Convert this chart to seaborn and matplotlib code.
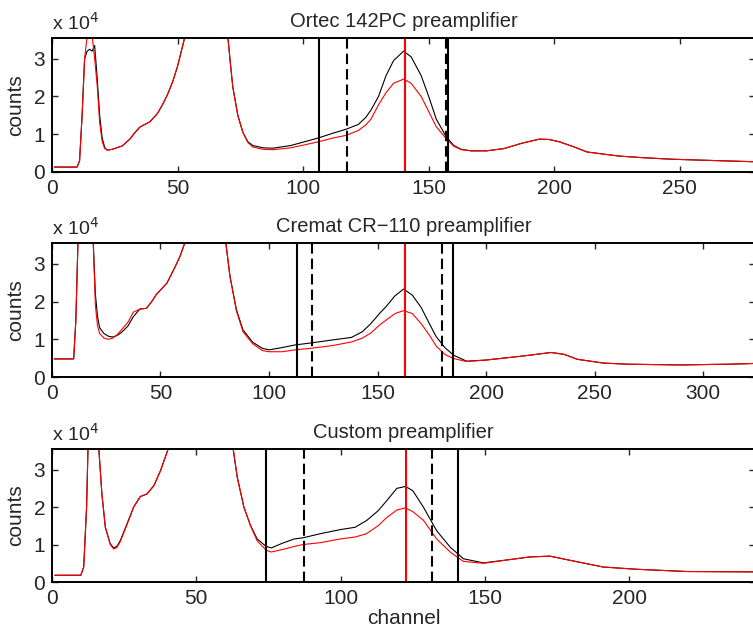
import matplotlib
matplotlib.use("Agg")
import matplotlib.pyplot as plt
import seaborn as sns

# counts are in units of 1e4 (values above the y range are clipped peaks)
ortec_ch = [1, 10, 11, 12, 13, 14, 15, 16, 17, 18, 19, 20, 21, 22, 24, 28, 31, 33, 35, 39, 42, 44, 46, 48, 50, 51.5,
            53, 61, 70, 71, 72, 74, 76, 78, 80, 84, 88, 95, 100, 106, 112, 117, 122, 125, 127, 130, 133, 136, 140,
            143, 147, 150, 153, 157, 160, 163, 167, 173, 180, 187, 194, 198, 202, 208, 213, 220, 226, 235, 246, 260, 280]
ortec_black = [0.13, 0.13, 0.3, 1.5, 3.0, 3.2, 3.25, 3.2, 3.35, 2.5, 1.5, 0.9, 0.65, 0.58, 0.6, 0.69, 0.87, 1.04, 1.19,
               1.33, 1.55, 1.78, 2.05, 2.38, 2.8, 3.2, 3.6, 9.0, 3.6, 2.9, 2.25, 1.5, 1.05, 0.8, 0.7, 0.64, 0.63, 0.7,
               0.79, 0.9, 1.03, 1.13, 1.26, 1.45, 1.64, 2.0, 2.55, 2.95, 3.2, 3.05, 2.55, 2.0, 1.4, 0.93, 0.7, 0.6,
               0.56, 0.56, 0.62, 0.76, 0.87, 0.86, 0.8, 0.66, 0.53, 0.47, 0.42, 0.38, 0.34, 0.31, 0.27]
ortec_red = [0.13, 0.13, 0.3, 1.5, 3.0, 3.6, 3.85, 3.6, 3.0, 2.3, 1.3, 0.8, 0.62, 0.58, 0.6, 0.69, 0.87, 1.04, 1.19,
             1.33, 1.55, 1.78, 2.05, 2.38, 2.8, 3.2, 3.6, 9.0, 3.6, 2.9, 2.25, 1.5, 1.05, 0.78, 0.66, 0.6, 0.59, 0.64,
             0.71, 0.8, 0.9, 0.97, 1.1, 1.25, 1.4, 1.78, 2.1, 2.35, 2.46, 2.35, 2.0, 1.6, 1.2, 0.88, 0.68, 0.59,
             0.56, 0.56, 0.62, 0.76, 0.87, 0.86, 0.8, 0.66, 0.53, 0.47, 0.42, 0.38, 0.34, 0.31, 0.27]

cremat_ch = [1, 10, 11, 12, 15, 19, 20, 21, 22, 24, 26, 28, 30, 32, 35, 37.5, 40.5, 43.5, 46, 48, 53, 57, 59, 61.5,
             70, 80, 82, 85, 88, 92.5, 97, 100, 106, 112, 119, 129, 138, 143, 147, 151, 154, 158, 162, 166, 170,
             174, 177, 181, 185, 191, 200, 208, 216, 223, 230, 236, 242, 254, 265, 277, 290, 300, 312, 324]
cremat_black = [0.48, 0.48, 1.5, 3.6, 8.0, 3.6, 2.2, 1.6, 1.3, 1.15, 1.08, 1.06, 1.1, 1.18, 1.35, 1.6, 1.8, 1.82, 2.0,
                2.18, 2.49, 2.95, 3.2, 3.6, 9.0, 3.6, 2.67, 1.78, 1.25, 0.92, 0.76, 0.72, 0.78, 0.85, 0.9, 0.98,
                1.05, 1.2, 1.42, 1.69, 1.87, 2.15, 2.33, 2.17, 1.85, 1.4, 1.07, 0.78, 0.58, 0.42, 0.45, 0.5, 0.55,
                0.6, 0.65, 0.6, 0.47, 0.37, 0.34, 0.33, 0.32, 0.33, 0.34, 0.36]
cremat_red = [0.48, 0.48, 1.5, 3.6, 8.0, 3.6, 1.9, 1.35, 1.15, 1.03, 1.0, 1.03, 1.12, 1.25, 1.45, 1.72, 1.8, 1.82, 2.0,
              2.18, 2.49, 2.95, 3.2, 3.6, 9.0, 3.6, 2.67, 1.75, 1.2, 0.88, 0.7, 0.67, 0.67, 0.72, 0.76, 0.83, 0.93,
              1.03, 1.17, 1.38, 1.51, 1.68, 1.76, 1.68, 1.42, 1.1, 0.82, 0.6, 0.49, 0.41, 0.45, 0.5, 0.55, 0.6,
              0.65, 0.6, 0.47, 0.37, 0.34, 0.33, 0.32, 0.33, 0.34, 0.36]

custom_ch = [1, 10, 11, 12, 12.5, 14, 16.2, 17.3, 18.5, 20.2, 21.4, 22.5, 23.7, 26, 28.3, 30.6, 32.9, 35.3, 37.6, 40.5,
             52, 62.7, 64.2, 66.5, 68.8, 71.1, 74.2, 76, 80, 84, 87, 93, 100, 105, 109, 113, 116, 119.5, 122.5, 125,
             128.7, 133.3, 138, 142.6, 149.5, 158.8, 165.7, 172.6, 179.5, 191, 202.6, 220, 244]
custom_black = [0.18, 0.18, 0.4, 2.0, 3.6, 8.0, 3.6, 2.35, 1.46, 1.02, 0.91, 0.95, 1.11, 1.55, 2.0, 2.28, 2.35, 2.57,
                2.97, 3.6, 9.0, 3.6, 2.8, 2.0, 1.51, 1.15, 0.95, 0.91, 1.04, 1.15, 1.18, 1.29, 1.4, 1.46, 1.64, 1.9,
                2.17, 2.5, 2.55, 2.44, 2.0, 1.37, 0.93, 0.62, 0.51, 0.6, 0.67, 0.69, 0.58, 0.4, 0.34, 0.28, 0.27]
custom_red = [0.18, 0.18, 0.4, 2.0, 3.6, 8.0, 3.6, 2.35, 1.46, 1.0, 0.88, 0.92, 1.08, 1.53, 2.0, 2.28, 2.35, 2.57,
              2.97, 3.6, 9.0, 3.6, 2.8, 2.0, 1.5, 1.1, 0.85, 0.8, 0.87, 0.95, 1.0, 1.05, 1.15, 1.2, 1.29, 1.5, 1.72,
              1.92, 1.98, 1.88, 1.65, 1.15, 0.8, 0.55, 0.5, 0.6, 0.67, 0.69, 0.58, 0.4, 0.34, 0.28, 0.27]

titles = ["Ortec 142PC preamplifier", "Cremat CR\u2212110 preamplifier", "Custom preamplifier"]
solid_lines = [[106.2, 157.6], [112.7, 184.8], [74.2, 140.7]]
dashed_lines = [[117.5, 156.8], [119.6, 179.7], [87.3, 131.6]]
peak_lines = [140.6, 162.7, 122.7]
x_max = [280, 324, 243.7]
x_ticks = [[0, 50, 100, 150, 200, 250], [0, 50, 100, 150, 200, 250, 300], [0, 50, 100, 150, 200]]
y_ticks = [0, 1, 2, 3]

panels = [(ortec_ch, ortec_black, ortec_red),
          (cremat_ch, cremat_black, cremat_red),
          (custom_ch, custom_black, custom_red)]

sns.set_style("ticks")
plt.rcParams["font.family"] = ["Liberation Sans", "DejaVu Sans"]
plt.rcParams["font.size"] = 15

fig = plt.figure(figsize=(7.53, 6.36), dpi=100)
boxes = [[0.069, 0.7296, 0.934, 0.2107],
         [0.069, 0.4072, 0.934, 0.2107],
         [0.069, 0.0849, 0.934, 0.2091]]

for i, (ch, black, red) in enumerate(panels):
    ax = fig.add_axes(boxes[i])
    sns.lineplot(x=ch, y=black, ax=ax, color="black", lw=0.8, sort=False)
    sns.lineplot(x=ch, y=red, ax=ax, color="red", lw=0.8, sort=False)
    for xv in solid_lines[i]:
        ax.axvline(xv, color="black", lw=1.5)
    for xv in dashed_lines[i]:
        ax.axvline(xv, color="black", lw=1.5, linestyle=(0, (5, 2.4)))
    ax.axvline(peak_lines[i], color="red", lw=1.5)

    ax.set_xlim(0, x_max[i])
    ax.set_ylim(0, 3.55)
    ax.set_xticks(x_ticks[i])
    ax.set_yticks(y_ticks)
    ax.tick_params(direction="in", top=True, right=True, length=4, width=1, labelsize=15, pad=5)
    for s in ax.spines.values():
        s.set_linewidth(1.4)
        s.set_color("black")
    ax.set_ylabel("counts", fontsize=15, labelpad=6)
    ax.set_title(titles[i], fontsize=14.5, pad=8)
    ax.text(0.0, 1.03, r"x 10$^{4}$", transform=ax.transAxes, fontsize=14, va="bottom", ha="left")
    if i == 2:
        ax.set_xlabel("channel", fontsize=15, labelpad=1)

fig.savefig("out.png", dpi=100)
plt.close(fig)
